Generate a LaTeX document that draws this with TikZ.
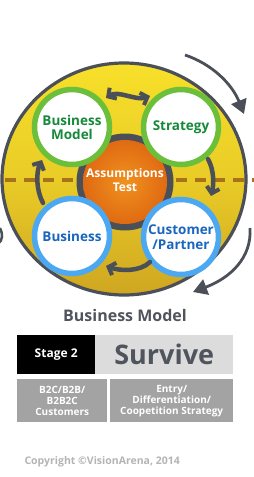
\documentclass[tikz,border=0pt]{standalone}
\usepackage{fontspec}
\setmainfont{Open Sans}
\usetikzlibrary{arrows.meta}
\definecolor{dk}{HTML}{4B4F57}
\definecolor{yl}{HTML}{F7E02A}
\definecolor{yd}{HTML}{CFA621}
\definecolor{gr}{HTML}{6CBF3A}
\definecolor{grt}{HTML}{168A3A}
\definecolor{bl}{HTML}{4DA8F2}
\definecolor{blt}{HTML}{1A66BE}
\definecolor{org}{HTML}{F0921E}
\definecolor{orgd}{HTML}{E06A12}
\definecolor{brn}{HTML}{A8721A}
\definecolor{ttl}{HTML}{50545C}
\definecolor{lg}{HTML}{DCDCDC}
\definecolor{mg}{HTML}{A3A3A3}
\definecolor{cp}{HTML}{B4B4B4}
\tikzset{
  greenring/.style={circle, draw=gr, line width=5.5pt, fill=white, minimum size=75pt, inner sep=0pt, align=center, font=\bfseries\fontsize{13.5}{14}\selectfont, text=grt},
  bluering/.style={circle, draw=bl, line width=5.5pt, fill=white, minimum size=75pt, inner sep=0pt, align=center, font=\bfseries\fontsize{13.5}{15}\selectfont, text=blt},
  barb/.tip={Straight Barb[length=6pt,width=13pt,line width=4pt]},
  inarrow/.style={dk, line width=4.5pt, line cap=round, -barb},
  outarrow/.style={dk, line width=2.8pt, -{Triangle[length=14pt,width=16pt]}},
  boxtxt/.style={text=white, font=\bfseries\fontsize{10}{11}\selectfont, align=center}
}
\begin{document}
\begin{tikzpicture}[x=1pt,y=-1pt]
\useasboundingbox (0,0) rectangle (254,477);
\clip (0,0) rectangle (254,477);
% big disc
\shade[top color=yl, bottom color=yd, middle color=yl!65!yd] (124,179) ellipse [x radius=122, y radius=116];
\draw[dk, line width=3.2pt] (124,179) ellipse [x radius=122, y radius=116];
% dashed line
\draw[brn, line width=4pt, dash pattern=on 11pt off 8pt] (5,180) -- (254,180);
% center
\node[circle, fill=dk, minimum size=97pt, inner sep=0pt] (ctr) at (125,182) {};
\shade[inner color=org, outer color=orgd] (125,182) circle (42);
\node[text=white, font=\bfseries\fontsize{12}{14.5}\selectfont, align=center] (at) at (125,180) {Assumptions\\Test};
% rings
\node[greenring] (bm) at (72,127) {Business\\Model};
\node[greenring] (st) at (181,127) {Strategy};
\node[bluering] (bu) at (72,236) {Business};
\node[bluering] (cu) at (181,237) {Customer\\/Partner};
% inner arrows
\coordinate (t1) at (106,98);
\coordinate (t2) at (150,96);
\draw[inarrow, barb-barb] (t1) .. controls (118,90) and (136,101) .. (t2);
\coordinate (l1) at (43,203);
\coordinate (l2) at (42,160);
\draw[inarrow] (l1) .. controls (36,190) and (36,172) .. (l2);
\coordinate (r1) at (208,159);
\coordinate (r2) at (211,196);
\draw[inarrow] (r1) .. controls (214,170) and (214,184) .. (r2);
\coordinate (b1) at (150,262);
\coordinate (b2) at (106,266);
\draw[inarrow] (b1) .. controls (140,272) and (120,271) .. (b2);
% outer arrows
\coordinate (a1s) at (185,55);
\coordinate (a1e) at (244,114);
\draw[outarrow] (a1s) .. controls (212,64) and (232,84) .. (a1e);
\coordinate (a2s) at (250,228);
\coordinate (a2e) at (193,292);
\draw[outarrow] (a2s) .. controls (252,258) and (230,278) .. (a2e);
\coordinate (a3s) at (0,228);
\coordinate (a3e) at (-2,244);
\draw[dk, line width=2.5pt] (a3s) .. controls (3,234) and (3,240) .. (a3e);
% title
\node[text=ttl, font=\bfseries\fontsize{16}{17}\selectfont] (title) at (125,315) {Business Model};
% stage boxes
\node[fill=black, minimum width=78pt, minimum height=39pt, inner sep=0pt, text=white, font=\bfseries\fontsize{12}{13}\selectfont, anchor=north west] (stage) at (17,335) {Stage 2};
\node[fill=lg, minimum width=138pt, minimum height=39pt, inner sep=0pt, text=ttl, font=\bfseries\fontsize{27}{28}\selectfont, anchor=north west] (surv) at (95,335) {Survive};
\node[fill=mg, minimum width=90pt, minimum height=43pt, inner sep=0pt, boxtxt, anchor=north west] (b2c) at (17,379) {B2C/B2B/\\B2B2C\\Customers};
\node[fill=mg, minimum width=123pt, minimum height=43pt, inner sep=0pt, boxtxt, anchor=north west] (entry) at (110,379) {Entry/\\Differentiation/\\Coopetition Strategy};
% copyright
\node[text=cp, font=\bfseries\fontsize{10.5}{11}\selectfont, anchor=west] (copy) at (21,462) {Copyright ©VisionArena, 2014};
\end{tikzpicture}
\end{document}
